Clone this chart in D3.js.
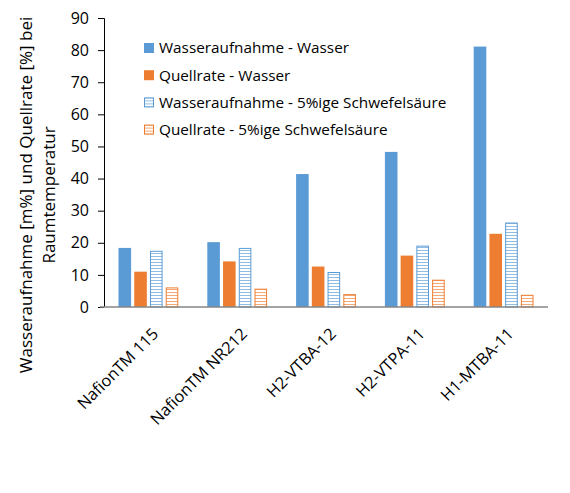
<!DOCTYPE html>
<html>
<head>
<meta charset="utf-8">
<script src="https://cdn.jsdelivr.net/npm/d3@7"></script>
<style>
  body { margin: 0; background: #fff; }
  text { font-family: "Open Sans", sans-serif; fill: #000; }
</style>
</head>
<body>
<div id="vis"></div>
<script>
// data
let categories = ["NafionTM 115", "NafionTM NR212", "H2-VTBA-12", "H2-VTPA-11", "H1-MTBA-11"];
let seriesNames = ["Wasseraufnahme - Wasser", "Quellrate - Wasser",
  "Wasseraufnahme - 5%ige Schwefelsäure", "Quellrate - 5%ige Schwefelsäure"];
let aufnahmeWasser = [18.4, 20.2, 41.4, 48.3, 81.1];
let quellWasser = [11.0, 14.2, 12.6, 16.0, 22.8];
let aufnahmeSaeure = [17.5, 18.4, 10.9, 19.1, 26.3];
let quellSaeure = [6.1, 5.7, 4.0, 8.5, 3.8];
let yTicks = [0, 10, 20, 30, 40, 50, 60, 70, 80, 90];

let series = [aufnahmeWasser, quellWasser, aufnahmeSaeure, quellSaeure];
let blue = "#5b9bd5", orange = "#ed7d31";
let colors = [blue, orange, blue, orange];
let hatched = [false, false, true, true];

let W = 570, H = 493;
let margin = { top: 18, left: 104, right: 22, bottom: 186 };
let width = W - margin.left - margin.right,
  height = H - margin.top - margin.bottom;

let svg = d3.select('#vis').append('svg')
  .attr('width', W).attr('height', H)
  .style('background-color', 'white');

// horizontal line patterns for the acid series
let defs = svg.append('defs');
['blue', 'orange'].forEach(function(name, i) {
  let c = i == 0 ? blue : orange;
  let p = defs.append('pattern')
    .attr('id', 'hatch-' + name)
    .attr('patternUnits', 'userSpaceOnUse')
    .attr('width', 6).attr('height', 3);
  p.append('rect').attr('width', 6).attr('height', 3).attr('fill', 'white');
  p.append('rect').attr('y', 1).attr('width', 6).attr('height', 0.9)
    .attr('fill', c).attr('opacity', 0.75);
});

let g = svg.append('g').attr('transform', `translate(${margin.left},${margin.top})`);

let x = d3.scaleBand().domain(categories).range([0, width]).paddingInner(0).paddingOuter(0);
let xInner = d3.scaleBand().domain(d3.range(series.length))
  .range([14.5, x.bandwidth() - 14.5]).paddingInner(0.2);
let y = d3.scaleLinear().domain([0, 90]).range([height, 0]);

// bars
series.forEach(function(vals, s) {
  g.append('g').selectAll('rect')
    .data(vals)
    .join('rect')
    .attr('x', (d, i) => x(categories[i]) + xInner(s) + (hatched[s] ? 0.5 : 0))
    .attr('y', d => y(d) + (hatched[s] ? 0.5 : 0))
    .attr('width', xInner.bandwidth() - (hatched[s] ? 1 : 0))
    .attr('height', d => height - y(d) - (hatched[s] ? 0.5 : 0))
    .attr('fill', hatched[s] ? (s == 2 ? 'url(#hatch-blue)' : 'url(#hatch-orange)') : colors[s])
    .attr('stroke', hatched[s] ? colors[s] : 'none')
    .attr('stroke-width', 1);
});

// y axis
let yAxis = g.append('g')
  .call(d3.axisLeft(y).tickValues(yTicks).tickSize(6).tickPadding(9).tickFormat(d3.format('d')));
yAxis.select('.domain').attr('stroke', '#000').attr('d', `M-6,0.5H0.5V${height}`);
yAxis.selectAll('.tick line').attr('stroke', '#000');
yAxis.selectAll('.tick text')
  .style('font-size', '16px').attr('fill', '#404040');

// x axis baseline and labels
let xAxis = g.append('g').attr('transform', `translate(0,${height})`)
  .call(d3.axisBottom(x).tickSize(0).tickPadding(0));
xAxis.select('.domain').attr('stroke', '#868686').attr('stroke-width', 1.3)
  .attr('d', `M-4,0H${width}`);
xAxis.selectAll('.tick text')
  .style('font-size', '16.3px')
  .attr('text-anchor', 'end')
  .attr('dy', 0)
  .attr('transform', 'translate(11,28) rotate(-45)');

// y axis title
let title = svg.append('text')
  .attr('transform', `translate(0,195) rotate(-90)`)
  .attr('text-anchor', 'middle')
  .style('font-size', '17px');
title.append('tspan').attr('x', 0).attr('y', 32).text('Wasseraufnahme [m%] und Quellrate [%] bei');
title.append('tspan').attr('x', 0).attr('y', 55).text('Raumtemperatur');

// legend
let legend = svg.append('g').attr('transform', 'translate(144,48)');
let rows = legend.selectAll('g').data(seriesNames).join('g')
  .attr('transform', (d, i) => `translate(0,${i * 27.2})`);
rows.append('rect')
  .attr('x', (d, i) => hatched[i] ? 0.5 : 0)
  .attr('y', (d, i) => -5 + (hatched[i] ? 0.5 : 0))
  .attr('width', (d, i) => hatched[i] ? 9 : 10)
  .attr('height', (d, i) => hatched[i] ? 9 : 10)
  .attr('fill', (d, i) => hatched[i] ? (i == 2 ? 'url(#hatch-blue)' : 'url(#hatch-orange)') : colors[i])
  .attr('stroke', (d, i) => hatched[i] ? colors[i] : 'none');
rows.append('text')
  .attr('x', 15).attr('y', 0).attr('dy', '0.35em')
  .style('font-size', '15.3px')
  .text(d => d);
</script>
</body>
</html>
